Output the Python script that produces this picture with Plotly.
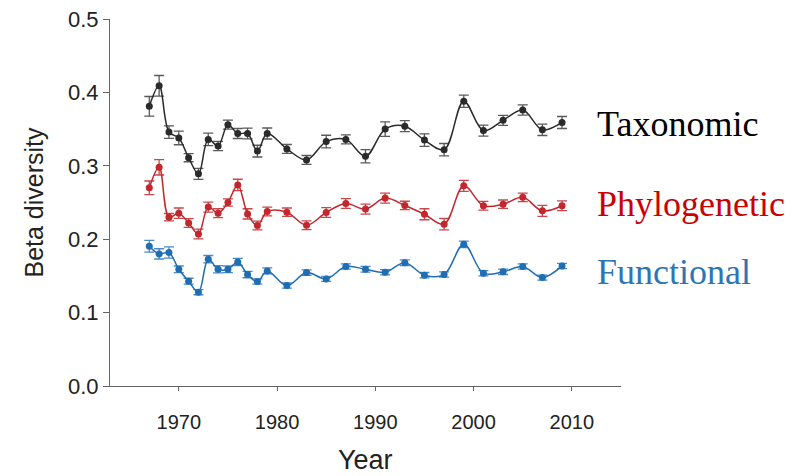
import plotly.graph_objects as go

# Survey years
years = [1967, 1968, 1969, 1970, 1971, 1972, 1973, 1974, 1975, 1976, 1977, 1978, 1979,
         1981, 1983, 1985, 1987, 1989, 1991, 1993, 1995, 1997, 1999, 2001, 2003, 2005,
         2007, 2009]

# Mean beta diversity per year and its standard error
taxonomic = [0.381, 0.409, 0.346, 0.338, 0.311, 0.289, 0.336, 0.327, 0.356, 0.344, 0.344,
             0.320, 0.344, 0.323, 0.308, 0.333, 0.336, 0.313, 0.350, 0.354, 0.335, 0.322,
             0.388, 0.348, 0.362, 0.376, 0.349, 0.359]
taxonomic_se = [0.0134, 0.014, 0.0085, 0.0093, 0.0055, 0.0075, 0.0086, 0.0064, 0.0061,
                0.0068, 0.0073, 0.008, 0.0075, 0.006, 0.006, 0.0086, 0.006, 0.009, 0.0098,
                0.0075, 0.0086, 0.0084, 0.0084, 0.0075, 0.0068, 0.007, 0.0077, 0.0082]

phylogenetic = [0.270, 0.298, 0.230, 0.2355, 0.222, 0.207, 0.2437, 0.2355, 0.250, 0.274,
                0.2345, 0.2186, 0.2377, 0.2368, 0.219, 0.2364, 0.2486, 0.241, 0.256, 0.246,
                0.234, 0.2205, 0.2727, 0.2455, 0.2477, 0.257, 0.2386, 0.2455]
phylogenetic_se = [0.0093, 0.0105, 0.005, 0.007, 0.006, 0.0066, 0.0068, 0.006, 0.005,
                   0.0077, 0.007, 0.006, 0.006, 0.0057, 0.006, 0.0066, 0.0066, 0.0068,
                   0.0068, 0.0057, 0.0075, 0.0077, 0.0075, 0.006, 0.0057, 0.0057, 0.0075,
                   0.0066]

functional = [0.1905, 0.180, 0.1818, 0.159, 0.1428, 0.1278, 0.1728, 0.159, 0.159, 0.169,
              0.1518, 0.1423, 0.1568, 0.1368, 0.1545, 0.1459, 0.1627, 0.159, 0.155, 0.168,
              0.151, 0.1518, 0.193, 0.1537, 0.1555, 0.1627, 0.1477, 0.1636]
functional_se = [0.008, 0.007, 0.0077, 0.0045, 0.004, 0.0035, 0.005, 0.005, 0.0045, 0.0048,
                 0.0043, 0.0036, 0.004, 0.0035, 0.0036, 0.0034, 0.0036, 0.0039, 0.0036,
                 0.0039, 0.0036, 0.0036, 0.0045, 0.0036, 0.0036, 0.0036, 0.0034, 0.0036]

# name, values, errors, line/marker colour, error-bar colour, label colour, label pixel y
series = [
    ("Taxonomic", taxonomic, taxonomic_se, "#2a2a2a", "#5a5a5a", "#000000", 124),
    ("Phylogenetic", phylogenetic, phylogenetic_se, "#c1272d", "#c8474c", "#cc0000", 204),
    ("Functional", functional, functional_se, "#1f6db3", "#4a8ac6", "#2e75b6", 272),
]

plot_left, plot_right, plot_top, plot_bottom = 110, 621, 19, 386
plot_w = plot_right - plot_left
plot_h = plot_bottom - plot_top

fig = go.Figure()
for name, vals, se, color, err_color, text_color, label_py in series:
    fig.add_trace(go.Scatter(
        x=years, y=vals, name=name, mode="lines+markers",
        line=dict(color=color, width=1.5, shape="spline", smoothing=1.0),
        marker=dict(color=color, size=7),
        error_y=dict(type="data", array=se, visible=True, color=err_color,
                     thickness=1.3, width=5),
        showlegend=False,
    ))
    # series name written beside its curve
    fig.add_annotation(
        x=(595 - plot_left) / plot_w,
        y=(plot_bottom - label_py) / plot_h,
        xref="paper", yref="paper",
        text=name, showarrow=False, xanchor="left", yanchor="middle",
        font=dict(family="Liberation Serif, Times New Roman, serif", size=36,
                  color=text_color),
    )

sans = "Liberation Sans, Arial, sans-serif"

# axis titles placed at fixed pixel offsets from the plot area
fig.add_annotation(
    x=0.5, y=(plot_bottom - 476) / plot_h, xref="paper", yref="paper",
    text="Year", showarrow=False, xanchor="center", yanchor="bottom",
    borderpad=0, font=dict(family=sans, size=27, color="#222222"),
)
fig.add_annotation(
    x=(33 - plot_left) / plot_w, y=0.5, xref="paper", yref="paper",
    text="Beta diversity", showarrow=False, textangle=-90,
    xanchor="center", yanchor="middle",
    font=dict(family=sans, size=25, color="#222222"),
)

fig.update_layout(
    width=800, height=476,
    margin=dict(l=plot_left, r=800 - plot_right, t=plot_top, b=476 - plot_bottom),
    paper_bgcolor="white", plot_bgcolor="white",
    xaxis=dict(
        range=[1963, 2015], tickvals=[1970, 1980, 1990, 2000, 2010],
        showgrid=False, zeroline=False, showline=True, linecolor="#666666",
        linewidth=1.2, ticks="outside", ticklen=4, tickcolor="#666666",
        tickfont=dict(family=sans, size=20, color="#222222"), ticklabelstandoff=14,
        automargin=False,
    ),
    yaxis=dict(
        range=[0, 0.5], tickvals=[0, 0.1, 0.2, 0.3, 0.4, 0.5], tickformat=".1f",
        showgrid=False, zeroline=False, showline=True, linecolor="#666666",
        linewidth=1.2, ticks="outside", ticklen=6, tickcolor="#666666",
        tickfont=dict(family=sans, size=22, color="#222222"),
        automargin=False,
    ),
)

fig.write_html("out.html")
